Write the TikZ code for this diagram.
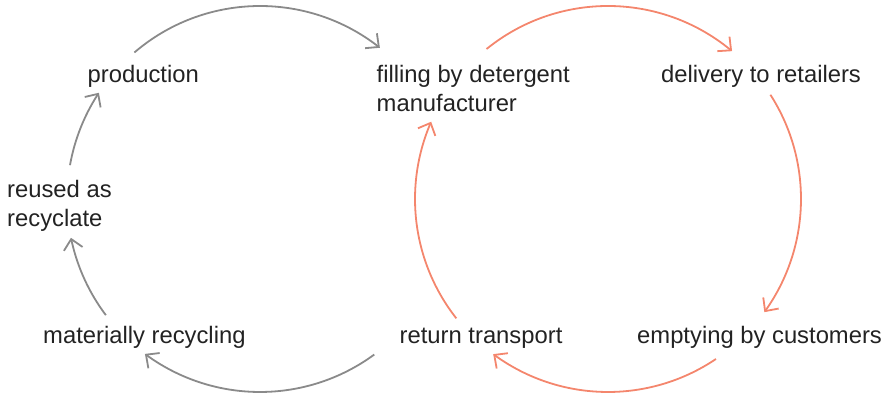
\documentclass[tikz,border=0pt]{standalone}
\usepackage{fontspec}
\setmainfont{Liberation Sans}
\usetikzlibrary{arrows.meta,bending,calc}
\definecolor{txt}{HTML}{222222}
\definecolor{loopgray}{HTML}{8A8A8A}
\definecolor{salmon}{HTML}{F4866D}
\tikzset{
  lbl/.style={inner sep=0pt, anchor=base west, text=txt, align=left,
    font=\fontsize{23.8}{29}\selectfont},
  tipbarb/.style={-{Straight Barb[length=10pt,width=19pt,line width=1.8pt]}},
  grayflow/.style={draw=loopgray, line width=1.8pt, tipbarb},
  salmonflow/.style={draw=salmon, line width=1.8pt, tipbarb},
}
\begin{document}
\begin{tikzpicture}[x=1pt,y=1pt]
\useasboundingbox (0,0) rectangle (892,395);
% text nodes (image y converted: 395 - y); multi-line nodes anchored at last baseline
\node[lbl] (prod)  at (87.5,312.5) {production};
\node[lbl] (fill)  at (376.5,283.5) {filling by detergent\\manufacturer};
\node[lbl] (deliv) at (661,312.5) {delivery to retailers};
\node[lbl] (reuse) at (7,168.5) {reused as\\recyclate};
\node[lbl] (matrec) at (43,51) {materially recycling};
\node[lbl] (ret)   at (399.5,51) {return transport};
\node[lbl] (empt)  at (637,51) {emptying by customers};
% circle centres
\coordinate (C1) at (260,196);
\coordinate (C2) at (608,196);
\def\rr{193pt}
% gray loop
\coordinate (gaS) at ($(C1)+(130.6:\rr)$);
\coordinate (gbS) at ($(C1)+(-53.7:\rr)$);
\coordinate (gcS) at ($(C1)+(217:\rr)$);
\coordinate (gdS) at ($(C1)+(169.9:\rr)$);
\draw[grayflow] (gaS) arc[start angle=130.6, end angle=51.6, radius=\rr];
\draw[grayflow] (gbS) arc[start angle=-53.7, end angle=-126.6, radius=\rr];
\draw[grayflow] (gcS) arc[start angle=217, end angle=191.6, radius=\rr];
\draw[grayflow] (gdS) arc[start angle=169.9, end angle=146.6, radius=\rr];
% salmon loop
\coordinate (saS) at ($(C2)+(129:\rr)$);
\coordinate (sbS) at ($(C2)+(32.7:\rr)$);
\coordinate (scS) at ($(C2)+(-56:\rr)$);
\coordinate (sdS) at ($(C2)+(218.2:\rr)$);
\draw[salmonflow] (saS) arc[start angle=129, end angle=50, radius=\rr];
\draw[salmonflow] (sbS) arc[start angle=32.7, end angle=-35.9, radius=\rr];
\draw[salmonflow] (scS) arc[start angle=-56, end angle=-126.5, radius=\rr];
\draw[salmonflow] (sdS) arc[start angle=218.2, end angle=156.4, radius=\rr];
\end{tikzpicture}
\end{document}
